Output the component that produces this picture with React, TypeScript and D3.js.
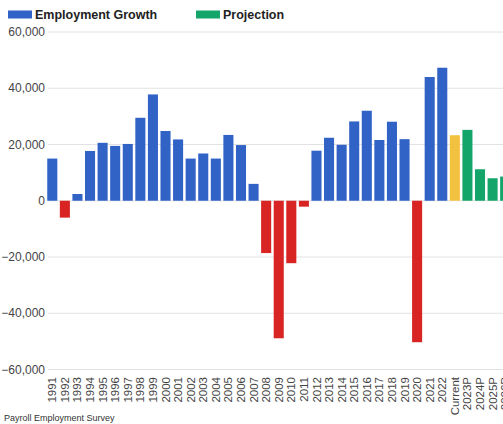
import React from "react";
import * as d3 from "d3";

const categories = [
  "1991","1992","1993","1994","1995","1996","1997","1998","1999","2000",
  "2001","2002","2003","2004","2005","2006","2007","2008","2009","2010",
  "2011","2012","2013","2014","2015","2016","2017","2018","2019","2020",
  "2021","2022","Current","2023P","2024P","2025P","2026P",
];
const values = [
  15000, -6000, 2400, 17700, 20600, 19500, 20200, 29500, 37800, 24800,
  21800, 15000, 16800, 15000, 23400, 19800, 6000, -18600, -48900, -22200,
  -2100, 17800, 22400, 19900, 28200, 32000, 21600, 28100, 21900, -50300,
  44000, 47300, 23300, 25200, 11200, 8000, 8600,
];
const kinds = categories.map((c) =>
  c === "Current" ? "current" : c.endsWith("P") ? "projection" : "actual"
);
const yTicks = [60000, 40000, 20000, 0, -20000, -40000, -60000];
const legendItems = [
  { label: "Employment Growth", color: "#3162c6" },
  { label: "Projection", color: "#14a56b" },
];

const W = 503;
const H = 424;
const BLUE = "#3162c6";
const RED = "#d92424";
const YELLOW = "#f2c13f";
const GREEN = "#14a56b";

export default function App() {
  const x = d3
    .scaleBand<string>()
    .domain(categories)
    .range([46, 46 + 12.58 * categories.length])
    .paddingInner(0.2)
    .paddingOuter(0.1);
  const y = d3.scaleLinear().domain([-60000, 60000]).range([369.5, 32]);
  const fmt = d3.format(",");
  const color = (v: number, k: string) =>
    k === "current" ? YELLOW : k === "projection" ? GREEN : v < 0 ? RED : BLUE;
  const font = "Arial, 'Liberation Sans', sans-serif";

  return (
    <svg
      width={W}
      height={H}
      style={{ position: "fixed", left: 0, top: 0, background: "#fff" }}
      fontFamily={font}
    >
      <rect width={W} height={H} fill="#fff" />
      {yTicks.map((t) => (
        <g key={t}>
          <line x1={48} x2={W} y1={y(t)} y2={y(t)} stroke="#e2e2e2" strokeWidth={1} />
          <text x={45} y={y(t)} dy="0.35em" textAnchor="end" fontSize={12} fill="#444">
            {fmt(t)}
          </text>
        </g>
      ))}
      {categories.map((c, i) => {
        const v = values[i];
        const y0 = y(0);
        const y1 = y(v);
        return (
          <rect
            key={c}
            x={x(c)}
            width={x.bandwidth()}
            y={Math.min(y0, y1)}
            height={Math.abs(y1 - y0)}
            fill={color(v, kinds[i])}
          />
        );
      })}
      {categories.map((c) => {
        const cx = (x(c) as number) + x.bandwidth() / 2;
        return (
          <text
            key={c}
            transform={`translate(${cx},377) rotate(-90)`}
            dy="0.35em"
            textAnchor="end"
            fontSize={11.5}
            fill="#444"
          >
            {c}
          </text>
        );
      })}
      {legendItems.map((l, i) => {
        const lx = i === 0 ? 8 : 196;
        return (
          <g key={l.label}>
            <rect x={lx} y={10.5} width={24} height={8} fill={l.color} />
            <text x={lx + 27} y={14.5} dy="0.35em" fontSize={12.5} fontWeight="bold" fill="#222">
              {l.label}
            </text>
          </g>
        );
      })}
      <text x={4} y={421} fontSize={9} fill="#333">
        Payroll Employment Survey
      </text>
    </svg>
  );
}
